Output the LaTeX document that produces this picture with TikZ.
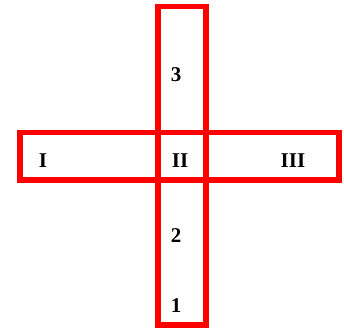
\documentclass[tikz,border=0pt]{standalone}
\usepackage{fontspec}
\setmainfont{Liberation Serif}
\begin{document}
\begin{tikzpicture}[x=1pt,y=-1pt,
  bar/.style={draw={rgb,255:red,255;green,0;blue,0}, line width=5.5pt},
  lbl/.style={font=\fontsize{21}{25}\selectfont\bfseries, inner sep=0pt, anchor=center}]
\useasboundingbox (0,0) rectangle (344,331);
\draw[bar] (158,6.5) rectangle (206,325);
\draw[bar] (20,132.5) rectangle (339,180);
\node[lbl] (n3) at (176,75) {3};
\node[lbl] (nI) at (43,161) {I};
\node[lbl] (nII) at (180,161) {II};
\node[lbl] (nIII) at (293,161) {III};
\node[lbl] (n2) at (176,236) {2};
\node[lbl] (n1) at (176,306) {1};
\end{tikzpicture}
\end{document}
